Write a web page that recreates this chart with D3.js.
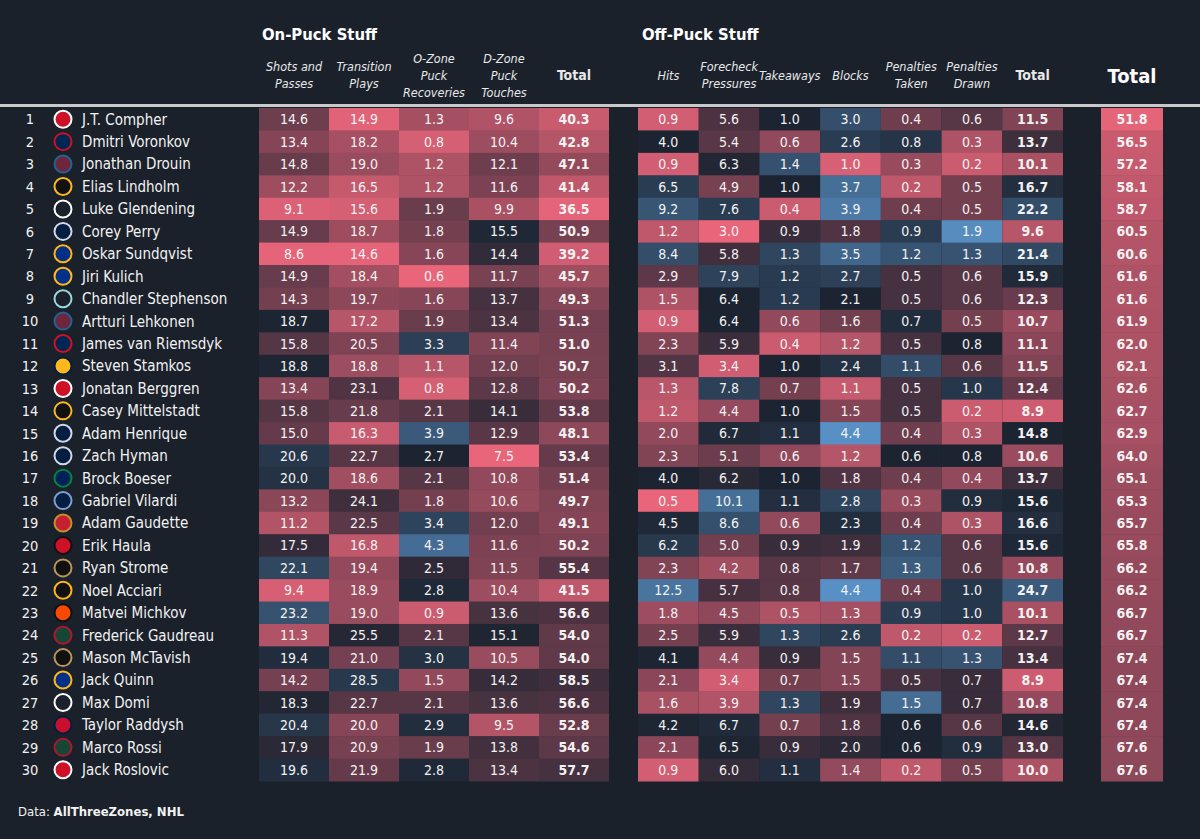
<!DOCTYPE html>
<html>
<head>
<meta charset="utf-8">
<script src="https://cdn.jsdelivr.net/npm/d3@7"></script>
<style>
  body { margin: 0; background: #1b212b; }
  svg { display: block; font-family: "Liberation Sans Narrow", "DejaVu Sans Condensed", Roboto, sans-serif; }
</style>
</head>
<body>
<svg class="chart"></svg>
<script>
// Width and height
var width = 1200, height = 839;

// Data
var ranks = [1,2,3,4,5,6,7,8,9,10,11,12,13,14,15,16,17,18,19,20,21,22,23,24,25,26,27,28,29,30];
var players = ["J.T. Compher","Dmitri Voronkov","Jonathan Drouin","Elias Lindholm","Luke Glendening","Corey Perry","Oskar Sundqvist","Jiri Kulich","Chandler Stephenson","Artturi Lehkonen","James van Riemsdyk","Steven Stamkos","Jonatan Berggren","Casey Mittelstadt","Adam Henrique","Zach Hyman","Brock Boeser","Gabriel Vilardi","Adam Gaudette","Erik Haula","Ryan Strome","Noel Acciari","Matvei Michkov","Frederick Gaudreau","Mason McTavish","Jack Quinn","Max Domi","Taylor Raddysh","Marco Rossi","Jack Roslovic"];
var teams = ["DET","CBJ","COL","BOS","TBL","EDM","STL","BUF","SEA","COL","CBJ","NSH","DET","BOS","EDM","EDM","VAN","WPG","OTT","NJD","ANA","PIT","PHI","MIN","ANA","BUF","TOR","WSH","MIN","CAR"];

var shotsPasses = [14.6,13.4,14.8,12.2,9.1,14.9,8.6,14.9,14.3,18.7,15.8,18.8,13.4,15.8,15.0,20.6,20.0,13.2,11.2,17.5,22.1,9.4,23.2,11.3,19.4,14.2,18.3,20.4,17.9,19.6];
var transitionPlays = [14.9,18.2,19.0,16.5,15.6,18.7,14.6,18.4,19.7,17.2,20.5,18.8,23.1,21.8,16.3,22.7,18.6,24.1,22.5,16.8,19.4,18.9,19.0,25.5,21.0,28.5,22.7,20.0,20.9,21.9];
var oZoneRecoveries = [1.3,0.8,1.2,1.2,1.9,1.8,1.6,0.6,1.6,1.9,3.3,1.1,0.8,2.1,3.9,2.7,2.1,1.8,3.4,4.3,2.5,2.8,0.9,2.1,3.0,1.5,2.1,2.9,1.9,2.8];
var dZoneTouches = [9.6,10.4,12.1,11.6,9.9,15.5,14.4,11.7,13.7,13.4,11.4,12.0,12.8,14.1,12.9,7.5,10.8,10.6,12.0,11.6,11.5,10.4,13.6,15.1,10.5,14.2,13.6,9.5,13.8,13.4];
var onPuckTotal = [40.3,42.8,47.1,41.4,36.5,50.9,39.2,45.7,49.3,51.3,51.0,50.7,50.2,53.8,48.1,53.4,51.4,49.7,49.1,50.2,55.4,41.5,56.6,54.0,54.0,58.5,56.6,52.8,54.6,57.7];

var hits = [0.9,4.0,0.9,6.5,9.2,1.2,8.4,2.9,1.5,0.9,2.3,3.1,1.3,1.2,2.0,2.3,4.0,0.5,4.5,6.2,2.3,12.5,1.8,2.5,4.1,2.1,1.6,4.2,2.1,0.9];
var forecheckPressures = [5.6,5.4,6.3,4.9,7.6,3.0,5.8,7.9,6.4,6.4,5.9,3.4,7.8,4.4,6.7,5.1,6.2,10.1,8.6,5.0,4.2,5.7,4.5,5.9,4.4,3.4,3.9,6.7,6.5,6.0];
var takeaways = [1.0,0.6,1.4,1.0,0.4,0.9,1.3,1.2,1.2,0.6,0.4,1.0,0.7,1.0,1.1,0.6,1.0,1.1,0.6,0.9,0.8,0.8,0.5,1.3,0.9,0.7,1.3,0.7,0.9,1.1];
var blocks = [3.0,2.6,1.0,3.7,3.9,1.8,3.5,2.7,2.1,1.6,1.2,2.4,1.1,1.5,4.4,1.2,1.8,2.8,2.3,1.9,1.7,4.4,1.3,2.6,1.5,1.5,1.9,1.8,2.0,1.4];
var penaltiesTaken = [0.4,0.8,0.3,0.2,0.4,0.9,1.2,0.5,0.5,0.7,0.5,1.1,0.5,0.5,0.4,0.6,0.4,0.3,0.4,1.2,1.3,0.4,0.9,0.2,1.1,0.5,1.5,0.6,0.6,0.2];
var penaltiesDrawn = [0.6,0.3,0.2,0.5,0.5,1.9,1.3,0.6,0.6,0.5,0.8,0.6,1.0,0.2,0.3,0.8,0.4,0.9,0.3,0.6,0.6,1.0,1.0,0.2,1.3,0.7,0.7,0.6,0.9,0.5];
var offPuckTotal = [11.5,13.7,10.1,16.7,22.2,9.6,21.4,15.9,12.3,10.7,11.1,11.5,12.4,8.9,14.8,10.6,13.7,15.6,16.6,15.6,10.8,24.7,10.1,12.7,13.4,8.9,10.8,14.6,13.0,10.0];

var grandTotal = [51.8,56.5,57.2,58.1,58.7,60.5,60.6,61.6,61.6,61.9,62.0,62.1,62.6,62.7,62.9,64.0,65.1,65.3,65.7,65.8,66.2,66.2,66.7,66.7,67.4,67.4,67.4,67.4,67.6,67.6];

// Column labels
var onPuckLabels = [["Shots and","Passes"],["Transition","Plays"],["O-Zone","Puck","Recoveries"],["D-Zone","Puck","Touches"],["Total"]];
var offPuckLabels = [["Hits"],["Forecheck","Pressures"],["Takeaways"],["Blocks"],["Penalties","Taken"],["Penalties","Drawn"],["Total"]];

// colour anchors (low, middle, high) per column
var onPuckDomains = [[8.5,18.6,30],[14.5,26,40],[0.6,2.7,5.2],[7.5,15.2,23],[36,63,90]];
var offPuckDomains = [[0.5,4.0,16],[3.0,6.4,12],[0.3,1.0,2.0],[0.9,2.1,4.5],[0.1,0.6,2.0],[0.1,0.8,2.0],[8,14.8,35]];
var grandDomain = [51,88,125];

// team badge colours (fill, ring)
var teamColors = {
  DET: ["#ce1126","#ffffff"], CBJ: ["#002654","#ce1126"], COL: ["#6f263d","#236192"],
  BOS: ["#111111","#ffb81c"], TBL: ["#1b212b","#ffffff"], EDM: ["#041e42","#cfd8e8"],
  STL: ["#002f87","#fcb514"], BUF: ["#003087","#ffb81c"], SEA: ["#1b212b","#99d9d9"],
  NSH: ["#ffb81c","#041e42"], VAN: ["#00205b","#00843d"], WPG: ["#041e42","#7b9fcf"],
  OTT: ["#c52032","#c2912c"], NJD: ["#ce1126","#111111"], ANA: ["#111111","#b9975b"],
  PIT: ["#111111","#fcb514"], PHI: ["#f74902","#111111"], MIN: ["#154734","#a6192e"],
  TOR: ["#1b212b","#ffffff"], WSH: ["#c8102e","#041e42"], CAR: ["#ce1126","#ffffff"]
};

var onPuckCols = [shotsPasses, transitionPlays, oZoneRecoveries, dZoneTouches, onPuckTotal];
var offPuckCols = [hits, forecheckPressures, takeaways, blocks, penaltiesTaken, penaltiesDrawn, offPuckTotal];

var pink = "#e8657a", mid = "#1d2431", blue = "#5b95cb";
function colorFor(domain) {
  return d3.scaleLinear().domain(domain).range([pink, mid, blue]).clamp(true);
}

var svg = d3.select(".chart")
  .attr("width", width)
  .attr("height", height);

svg.append("rect").attr("width", width).attr("height", height).attr("fill", "#1b212b");

// Scales
var y = d3.scaleBand().domain(ranks).range([108, 781]);
var xOn = d3.scaleBand().domain(d3.range(onPuckCols.length)).range([259, 609]);
var xOff = d3.scaleBand().domain(d3.range(offPuckCols.length)).range([638, 1063]);
var xGrand = d3.scaleBand().domain([0]).range([1101, 1163]);

var fmt = d3.format(".1f");

// Draw one block of columns
function drawBlock(cols, domains, xScale, cls) {
  cols.forEach(function (vals, c) {
    var color = colorFor(domains[c]);
    var isTotal = c === cols.length - 1;
    var g = svg.append("g").attr("class", cls);
    g.selectAll("rect")
      .data(vals)
      .enter()
      .append("rect")
      .attr("x", xScale(c))
      .attr("y", function (d, i) { return y(ranks[i]); })
      .attr("width", xScale.bandwidth())
      .attr("height", y.bandwidth() + 0.5)
      .attr("fill", function (d) { return color(d); });
    g.selectAll("text")
      .data(vals)
      .enter()
      .append("text")
      .attr("x", xScale(c) + xScale.bandwidth() / 2)
      .attr("y", function (d, i) { return y(ranks[i]) + y.bandwidth() / 2; })
      .attr("dy", "0.36em")
      .attr("text-anchor", "middle")
      .attr("fill", "#f2f2f2")
      .style("font-size", "14px")
      .style("font-weight", isTotal ? "bold" : "normal")
      .text(function (d) { return fmt(d); });
  });
}

drawBlock(onPuckCols, onPuckDomains, xOn, "onpuck");
drawBlock(offPuckCols, offPuckDomains, xOff, "offpuck");
drawBlock([grandTotal], [grandDomain], xGrand, "grand");
svg.selectAll(".grand text").style("font-weight", "600");

// Header line
svg.append("rect")
  .attr("x", 0).attr("y", 104)
  .attr("width", width).attr("height", 3)
  .attr("fill", "#c9c9c9");

// Group titles
svg.append("text")
  .attr("x", xOn(0) + 3).attr("y", 40)
  .attr("fill", "#ffffff")
  .style("font-size", "16.5px").style("font-weight", "bold")
  .text("On-Puck Stuff");
svg.append("text")
  .attr("x", xOff(0) + 4).attr("y", 40)
  .attr("fill", "#ffffff")
  .style("font-size", "16.5px").style("font-weight", "bold")
  .text("Off-Puck Stuff");

// Column headers
function drawHeaders(labels, xScale) {
  labels.forEach(function (lines, c) {
    var isTotal = c === labels.length - 1;
    var t = svg.append("text")
      .attr("x", xScale(c) + xScale.bandwidth() / 2)
      .attr("y", 75 - (lines.length - 1) * 8.5)
      .attr("text-anchor", "middle")
      .attr("fill", "#e8e8e8")
      .style("font-size", isTotal ? "14px" : "12.5px")
      .style("font-style", isTotal ? "normal" : "italic")
      .style("font-weight", isTotal ? "bold" : "normal");
    lines.forEach(function (l, k) {
      t.append("tspan")
        .attr("x", xScale(c) + xScale.bandwidth() / 2)
        .attr("dy", k === 0 ? "0.36em" : 17)
        .text(l);
    });
  });
}
drawHeaders(onPuckLabels, xOn);
drawHeaders(offPuckLabels, xOff);

svg.append("text")
  .attr("x", xGrand(0) + xGrand.bandwidth() / 2).attr("y", 76)
  .attr("dy", "0.36em")
  .attr("text-anchor", "middle")
  .attr("fill", "#ffffff")
  .style("font-size", "20px").style("font-weight", "bold")
  .text("Total");

// Rank, badge and name
var rows = svg.selectAll(".row")
  .data(players)
  .enter()
  .append("g")
  .attr("class", "row")
  .attr("transform", function (d, i) { return "translate(0," + (y(ranks[i]) + y.bandwidth() / 2) + ")"; });

rows.append("text")
  .attr("x", 30).attr("dy", "0.36em")
  .attr("text-anchor", "middle")
  .attr("fill", "#f2f2f2")
  .style("font-size", "14.5px")
  .text(function (d, i) { return ranks[i]; });

rows.append("circle")
  .attr("cx", 63).attr("r", 8.5)
  .attr("fill", function (d, i) { return teamColors[teams[i]][0]; })
  .attr("stroke", function (d, i) { return teamColors[teams[i]][1]; })
  .attr("stroke-width", 2);

rows.append("text")
  .attr("x", 82).attr("dy", "0.36em")
  .attr("fill", "#f2f2f2")
  .style("font-size", "15px")
  .text(function (d) { return d; });

// Source
var src = svg.append("text")
  .attr("x", 18).attr("y", 811).attr("dy", "0.36em")
  .attr("fill", "#f2f2f2")
  .style("font-size", "13px");
src.append("tspan").text("Data: ");
src.append("tspan").style("font-weight", "bold").text("AllThreeZones, NHL");
</script>
</body>
</html>
